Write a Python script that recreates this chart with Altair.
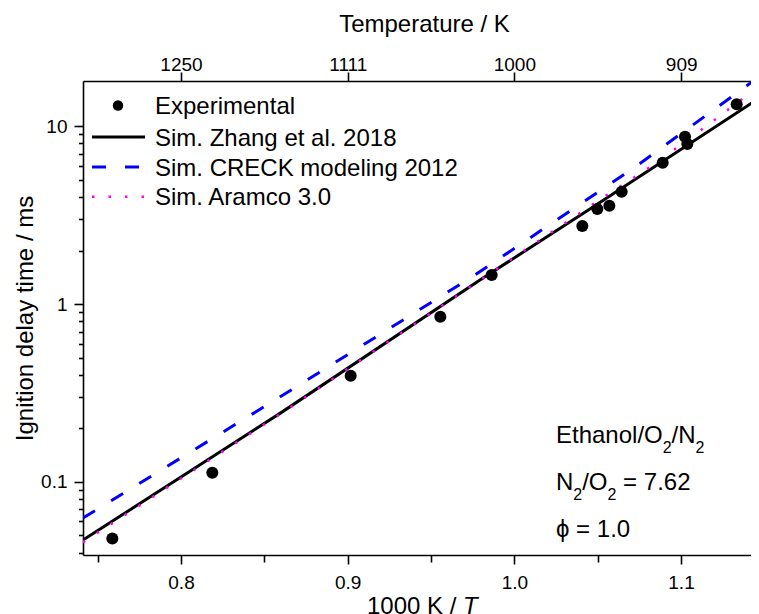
import altair as alt
import pandas as pd

# ---- data (x = 1000 K / T, y = ignition delay time / ms) ----
exp_x = [0.7588, 0.8188, 0.9018, 0.9556, 0.9864, 1.0408, 1.0498, 1.0570, 1.0644, 1.0890, 1.1024, 1.1038, 1.1334]
exp_y = [0.0481, 0.1125, 0.395, 0.848, 1.456, 2.746, 3.42, 3.57, 4.28, 6.23, 8.73, 7.94, 13.28]

zhang_x = [0.7412, 0.8594, 0.9794, 1.0472, 1.1468]
zhang_y = [0.0471, 0.2428, 1.365, 3.51, 14.35]

creck_x = [0.7412, 0.8564, 0.9754, 1.0714, 1.1414, 1.1468]
creck_y = [0.0626, 0.2884, 1.437, 5.80, 17.42, 18.97]

aramco_x = [0.7412, 0.8594, 0.9794, 1.0494, 1.0794, 1.1094, 1.1374, 1.1468]
aramco_y = [0.0458, 0.240, 1.36, 3.76, 5.72, 9.12, 14.35, 16.6]

series_names = ["Experimental", "Sim. Zhang et al. 2018", "Sim. CRECK modeling 2012", "Sim. Aramco 3.0"]

x_major = [0.8, 0.9, 1.0, 1.1]
x_minor = [0.75, 0.85, 0.95, 1.05]
y_major = [0.1, 1, 10]
y_minor = [0.04, 0.05, 0.06, 0.07, 0.08, 0.09, 0.2, 0.3, 0.4, 0.5, 0.6, 0.7, 0.8, 0.9,
           2, 3, 4, 5, 6, 7, 8, 9]
temp_labels = [1250, 1111, 1000, 909]

FONT = "Liberation Sans, Arial, Helvetica, sans-serif"
W, H = 668, 474

xs = alt.Scale(domain=[0.7412, 1.1420], nice=False, zero=False)
ys = alt.Scale(type="log", domain=[0.0388, 17.96], nice=False)

common = dict(domainColor="black", tickColor="black", labelColor="black",
              domainWidth=1.6, tickWidth=1.6, labelFont=FONT, titleFont=FONT,
              grid=False)

ax_bottom = alt.Axis(orient="bottom", values=x_major, format=".1f", tickSize=9,
                     labelPadding=9, labelFontSize=19, title=None, **common)
ax_bottom_minor = alt.Axis(orient="bottom", values=x_minor, labels=False, tickSize=7,
                           domain=False, title=None, **common)
ax_top = alt.Axis(orient="top", values=[1000 / t for t in temp_labels],
                  labelExpr="format(1000 / datum.value, 'd')", tickSize=9,
                  labelPadding=1.5, labelBaseline="alphabetic", labelFontSize=19,
                  title="Temperature / K", titleFontSize=24, titleFontWeight="normal",
                  titleColor="black", titleX=341, titleY=-49.3,
                  titleBaseline="alphabetic", titleAlign="center", **common)
ax_left = alt.Axis(orient="left", values=y_major, format="~g", tickSize=9,
                   labelPadding=7, labelFontSize=19,
                   title="Ignition delay time / ms", titleFontSize=24,
                   titleFontWeight="normal", titleColor="black",
                   titleX=-50.3, titleY=H / 2, titleAngle=270,
                   titleBaseline="alphabetic", titleAlign="center", **common)
ax_left_minor = alt.Axis(orient="left", values=y_minor, labels=False, tickSize=4.5,
                         domain=False, title=None, **common)

df_exp = pd.DataFrame({"x": exp_x, "y": exp_y})
df_z = pd.DataFrame({"x": zhang_x, "y": zhang_y})
df_c = pd.DataFrame({"x": creck_x, "y": creck_y})
df_a = pd.DataFrame({"x": aramco_x, "y": aramco_y})

zhang = alt.Chart(df_z).mark_line(color="black", strokeWidth=3, clip=True).encode(
    x=alt.X("x:Q", scale=xs, axis=ax_bottom),
    y=alt.Y("y:Q", scale=ys, axis=ax_left),
)
creck = alt.Chart(df_c).mark_line(color="#0000FF", strokeWidth=3, strokeDash=[14, 19],
                                  clip=True).encode(
    x=alt.X("x:Q", scale=xs, axis=ax_bottom_minor),
    y=alt.Y("y:Q", scale=ys, axis=None),
)
aramco = alt.Chart(df_a).mark_line(color="#FF00FF", strokeWidth=2.5, strokeDash=[2.5, 14],
                                   clip=True).encode(
    x=alt.X("x:Q", scale=xs, axis=ax_top),
    y=alt.Y("y:Q", scale=ys, axis=None),
)
points = alt.Chart(df_exp).mark_point(filled=True, color="black", size=145, opacity=1,
                                      shape="circle", clip=True).encode(
    x=alt.X("x:Q", scale=xs, axis=None),
    y=alt.Y("y:Q", scale=ys, axis=ax_left_minor),
)

one = pd.DataFrame({"a": [0]})

# ---- legend (drawn inside the plot, top-left) ----
leg_y = [24.5, 56, 86, 115.7]
leg_text_y = [32.8, 64.6, 94.6, 124.3]
legend_layers = [
    alt.Chart(one).mark_point(filled=True, color="black", size=110, opacity=1,
                              shape="circle").encode(x=alt.value(35), y=alt.value(leg_y[0])),
    alt.Chart(one).mark_rule(color="black", strokeWidth=3).encode(
        x=alt.value(9), x2=alt.value(62), y=alt.value(leg_y[1])),
    alt.Chart(one).mark_rule(color="#0000FF", strokeWidth=3, strokeDash=[14, 19]).encode(
        x=alt.value(9), x2=alt.value(62), y=alt.value(leg_y[2])),
    alt.Chart(one).mark_rule(color="#FF00FF", strokeWidth=2.5, strokeDash=[2.5, 14]).encode(
        x=alt.value(9), x2=alt.value(62), y=alt.value(leg_y[3])),
]
for name, ty in zip(series_names, leg_text_y):
    legend_layers.append(
        alt.Chart(one).mark_text(text=name, align="left", baseline="alphabetic",
                                 font=FONT, fontSize=24, color="black").encode(
            x=alt.value(72), y=alt.value(ty)))

# ---- annotation with subscripts ----
ann = [
    ("Ethanol/O", 473, 362.3, 24), ("2", 579.7, 372.3, 16), ("/N", 588.6, 362.3, 24),
    ("2", 612.6, 372.3, 16),
    ("N", 473, 408.5, 24), ("2", 490.3, 418.5, 16), ("/O", 499.2, 408.5, 24),
    ("2", 524.5, 418.5, 16), ("= 7.62", 540.1, 408.5, 24),
    ("\u03d5 = 1.0", 473, 456, 24),
]
ann_layers = [
    alt.Chart(one).mark_text(text=t, align="left", baseline="alphabetic", font=FONT,
                             fontSize=s, color="black").encode(x=alt.value(px), y=alt.value(py))
    for t, px, py, s in ann
]

# ---- bottom axis title with italic T ----
xtitle = [
    alt.Chart(one).mark_text(text="1000 K /", align="right", baseline="alphabetic",
                             font=FONT, fontSize=24, color="black").encode(
        x=alt.value(373.4), y=alt.value(533)),
    alt.Chart(one).mark_text(text="T", align="left", baseline="alphabetic", font=FONT,
                             fontSize=24, fontStyle="italic", color="black").encode(
        x=alt.value(380), y=alt.value(533)),
]

chart = alt.layer(zhang, creck, aramco, points, *legend_layers, *ann_layers, *xtitle).resolve_axis(
    x="independent", y="independent"
).properties(
    width=W, height=H,
    padding={"left": 75, "top": 73, "right": 0, "bottom": 59},
    autosize=alt.AutoSizeParams(type="none"),
    background="white",
).configure_view(stroke=None)

chart.save("out.html", embed_options={"renderer": "svg", "actions": False})
